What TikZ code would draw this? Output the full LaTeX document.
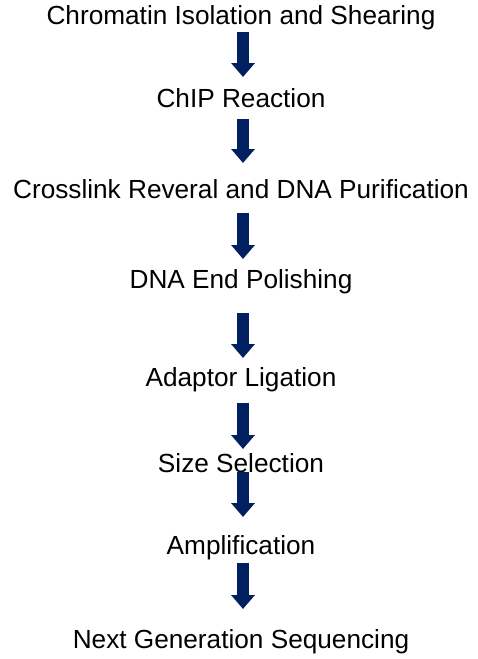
\documentclass[tikz,border=0pt]{standalone}
\usepackage{fontspec}
\setmainfont{Liberation Sans}
\usetikzlibrary{arrows.meta}
\definecolor{navy}{RGB}{0,32,96}
\begin{document}
\begin{tikzpicture}[x=1pt,y=-1pt,
  lbl/.style={anchor=base,inner sep=0pt,font=\fontsize{26.2}{30}\selectfont},
  flow/.style={draw=navy,line width=12pt,-{Triangle[width=23pt,length=14pt,fill=navy]}}]
\useasboundingbox (0,0) rectangle (477,659);
\node[lbl] (n1) at (241,24) {Chromatin Isolation and Shearing};
\node[lbl] (n2) at (241,107) {ChIP Reaction};
\node[lbl] (n3) at (241,198) {Crosslink Reveral and DNA Purification};
\node[lbl] (n4) at (241,288) {DNA End Polishing};
\node[lbl] (n5) at (241,386) {Adaptor Ligation};
\node[lbl] (n6) at (241,472) {Size Selection};
\node[lbl] (n7) at (241,554) {Amplification};
\node[lbl] (n8) at (241,648) {Next Generation Sequencing};
\coordinate (a1s) at (243,32);  \coordinate (a1e) at (243,77);
\coordinate (a2s) at (243,119); \coordinate (a2e) at (243,163);
\coordinate (a3s) at (243,213); \coordinate (a3e) at (243,259);
\coordinate (a4s) at (243,313); \coordinate (a4e) at (243,358);
\coordinate (a5s) at (243,403); \coordinate (a5e) at (243,449);
\coordinate (a6s) at (243,472); \coordinate (a6e) at (243,517);
\coordinate (a7s) at (243,563); \coordinate (a7e) at (243,609);
\draw[flow] (a1s) -- (a1e);
\draw[flow] (a2s) -- (a2e);
\draw[flow] (a3s) -- (a3e);
\draw[flow] (a4s) -- (a4e);
\draw[flow] (a5s) -- (a5e);
\draw[flow] (a6s) -- (a6e);
\draw[flow] (a7s) -- (a7e);
\end{tikzpicture}
\end{document}
